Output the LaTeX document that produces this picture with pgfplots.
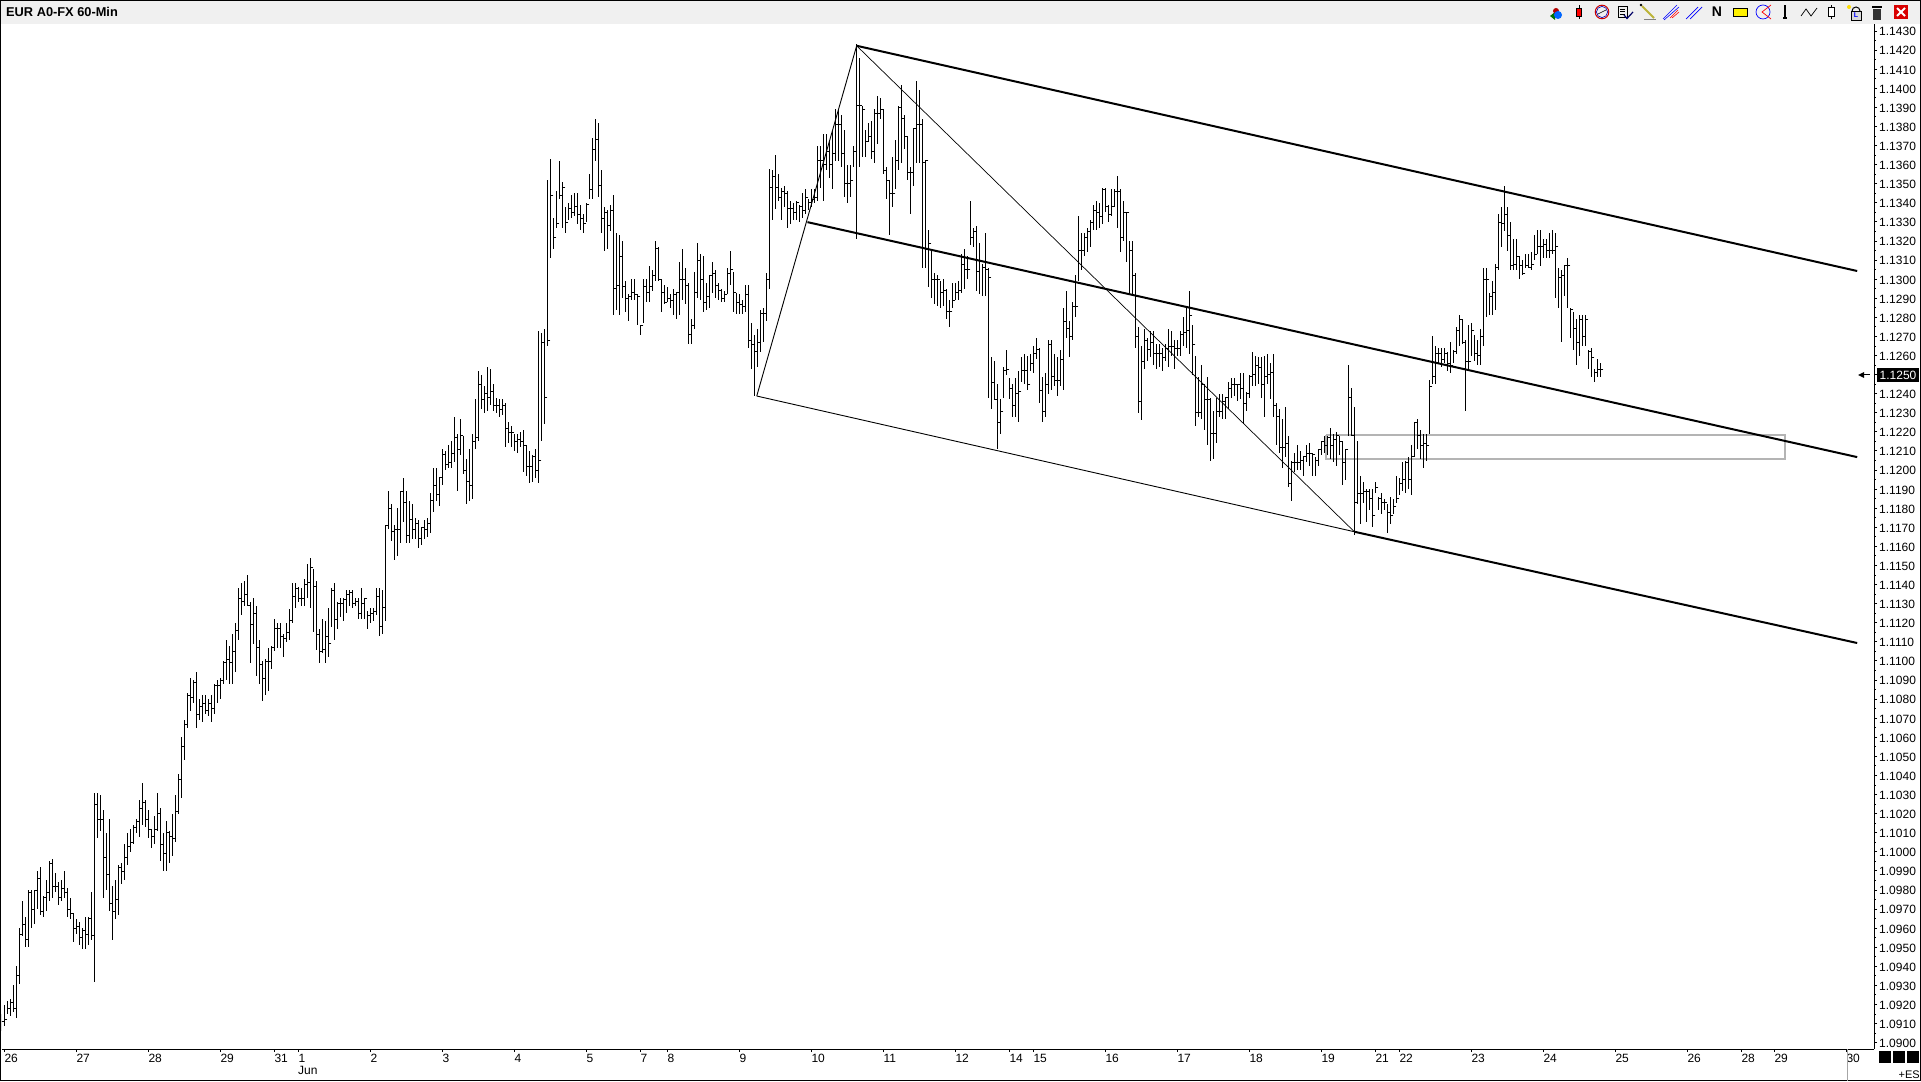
\documentclass[border=0pt]{standalone}
\usepackage{pgfplots}
\usepackage{pgfplotstable}
\usepackage{fontspec}
\setmainfont{Liberation Sans}
\pgfplotsset{compat=1.18}
\definecolor{hdr}{HTML}{F0F0F0}
\definecolor{gbox}{HTML}{B4B4B4}
\pgfplotstableread{
l h c
1.0906 1.0915 1.0911
1.0909 1.0920 1.0912
1.0915 1.0922 1.0918
1.0914 1.0923 1.0921
1.0916 1.0930 1.0918
1.0913 1.0940 1.0935
1.0931 1.0960 1.0957
1.0956 1.0974 1.0962
1.0950 1.0966 1.0954
1.0950 1.0980 1.0979
1.0960 1.0980 1.0970
1.0962 1.0980 1.0980
1.0970 1.0990 1.0986
1.0967 1.0992 1.0969
1.0966 1.0977 1.0976
1.0969 1.0985 1.0979
1.0974 1.0995 1.0994
1.0976 1.0996 1.0982
1.0979 1.0989 1.0982
1.0972 1.0984 1.0976
1.0974 1.0985 1.0981
1.0976 1.0990 1.0979
1.0966 1.0981 1.0970
1.0965 1.0976 1.0968
1.0953 1.0968 1.0960
1.0957 1.0965 1.0961
1.0951 1.0963 1.0955
1.0949 1.0960 1.0959
1.0949 1.0966 1.0957
1.0951 1.0966 1.0965
1.0954 1.0979 1.0956
1.0932 1.1031 1.1025
1.1007 1.1031 1.1017
1.1011 1.1030 1.1017
1.0976 1.1022 1.0997
1.0980 1.1010 1.0988
1.0969 1.1017 1.0973
1.0954 1.0982 1.0969
1.0965 1.0985 1.0975
1.0967 1.0993 1.0992
1.0983 1.0994 1.0990
1.0985 1.1004 1.0997
1.0993 1.1010 1.1003
1.1000 1.1012 1.1005
1.1004 1.1014 1.1013
1.1010 1.1017 1.1016
1.1008 1.1027 1.1023
1.1014 1.1036 1.1026
1.1013 1.1027 1.1017
1.1007 1.1022 1.1012
1.1002 1.1012 1.1008
1.1004 1.1019 1.1012
1.1011 1.1031 1.1020
1.0995 1.1023 1.1004
1.0990 1.1010 1.0999
1.0990 1.1016 1.1010
1.0994 1.1011 1.1008
1.0998 1.1020 1.1007
1.1005 1.1030 1.1021
1.1020 1.1041 1.1038
1.1028 1.1060 1.1055
1.1048 1.1069 1.1067
1.1065 1.1083 1.1082
1.1074 1.1091 1.1081
1.1078 1.1090 1.1089
1.1065 1.1094 1.1072
1.1069 1.1080 1.1076
1.1068 1.1082 1.1078
1.1072 1.1082 1.1074
1.1071 1.1080 1.1078
1.1068 1.1082 1.1075
1.1072 1.1088 1.1087
1.1078 1.1090 1.1087
1.1080 1.1091 1.1090
1.1088 1.1100 1.1099
1.1090 1.1111 1.1101
1.1088 1.1108 1.1099
1.1088 1.1114 1.1105
1.1094 1.1120 1.1116
1.1111 1.1138 1.1133
1.1124 1.1141 1.1131
1.1129 1.1142 1.1135
1.1129 1.1145 1.1129
1.1099 1.1131 1.1119
1.1109 1.1133 1.1125
1.1092 1.1129 1.1107
1.1088 1.1111 1.1098
1.1079 1.1100 1.1091
1.1082 1.1101 1.1100
1.1084 1.1107 1.1100
1.1096 1.1108 1.1107
1.1105 1.1122 1.1117
1.1107 1.1120 1.1117
1.1107 1.1120 1.1113
1.1102 1.1114 1.1112
1.1110 1.1120 1.1115
1.1111 1.1127 1.1121
1.1120 1.1141 1.1134
1.1128 1.1141 1.1138
1.1131 1.1139 1.1133
1.1129 1.1138 1.1133
1.1129 1.1143 1.1140
1.1133 1.1151 1.1141
1.1128 1.1154 1.1149
1.1115 1.1148 1.1139
1.1106 1.1142 1.1114
1.1099 1.1117 1.1105
1.1104 1.1122 1.1106
1.1099 1.1121 1.1113
1.1102 1.1128 1.1109
1.1118 1.1138 1.1137
1.1111 1.1141 1.1122
1.1117 1.1131 1.1130
1.1123 1.1133 1.1130
1.1121 1.1133 1.1132
1.1125 1.1137 1.1135
1.1129 1.1137 1.1136
1.1128 1.1137 1.1130
1.1129 1.1133 1.1131
1.1122 1.1133 1.1125
1.1122 1.1138 1.1130
1.1122 1.1133 1.1133
1.1117 1.1126 1.1124
1.1120 1.1128 1.1125
1.1121 1.1128 1.1126
1.1124 1.1138 1.1134
1.1113 1.1138 1.1118
1.1114 1.1137 1.1128
1.1121 1.1171 1.1171
1.1169 1.1189 1.1180
1.1163 1.1182 1.1168
1.1153 1.1171 1.1169
1.1155 1.1180 1.1169
1.1162 1.1189 1.1189
1.1173 1.1196 1.1183
1.1162 1.1189 1.1166
1.1162 1.1184 1.1174
1.1164 1.1182 1.1169
1.1164 1.1175 1.1172
1.1159 1.1174 1.1164
1.1161 1.1170 1.1170
1.1164 1.1174 1.1169
1.1165 1.1175 1.1172
1.1167 1.1188 1.1184
1.1178 1.1201 1.1192
1.1184 1.1201 1.1187
1.1181 1.1196 1.1196
1.1192 1.1211 1.1208
1.1200 1.1210 1.1203
1.1201 1.1213 1.1204
1.1201 1.1215 1.1209
1.1204 1.1228 1.1217
1.1189 1.1219 1.1211
1.1208 1.1227 1.1218
1.1198 1.1218 1.1200
1.1182 1.1206 1.1194
1.1184 1.1211 1.1192
1.1185 1.1219 1.1215
1.1211 1.1237 1.1217
1.1215 1.1252 1.1245
1.1232 1.1250 1.1237
1.1230 1.1244 1.1240
1.1231 1.1254 1.1238
1.1234 1.1253 1.1241
1.1231 1.1245 1.1234
1.1230 1.1238 1.1234
1.1228 1.1237 1.1232
1.1229 1.1237 1.1234
1.1212 1.1235 1.1222
1.1214 1.1225 1.1220
1.1212 1.1223 1.1220
1.1210 1.1219 1.1215
1.1209 1.1219 1.1216
1.1212 1.1220 1.1215
1.1199 1.1221 1.1213
1.1197 1.1213 1.1202
1.1193 1.1210 1.1202
1.1194 1.1208 1.1207
1.1196 1.1211 1.1200
1.1193 1.1273 1.1205
1.1215 1.1272 1.1267
1.1224 1.1274 1.1238
1.1265 1.1352 1.1268
1.1311 1.1363 1.1344
1.1316 1.1332 1.1322
1.1327 1.1346 1.1329
1.1342 1.1362 1.1344
1.1327 1.1351 1.1348
1.1324 1.1338 1.1330
1.1331 1.1340 1.1337
1.1332 1.1344 1.1335
1.1333 1.1345 1.1338
1.1329 1.1345 1.1334
1.1326 1.1339 1.1332
1.1324 1.1334 1.1329
1.1330 1.1340 1.1339
1.1342 1.1355 1.1347
1.1342 1.1374 1.1368
1.1362 1.1384 1.1373
1.1343 1.1382 1.1349
1.1324 1.1357 1.1332
1.1315 1.1338 1.1335
1.1316 1.1336 1.1328
1.1325 1.1339 1.1336
1.1281 1.1344 1.1295
1.1284 1.1324 1.1297
1.1281 1.1323 1.1312
1.1290 1.1320 1.1296
1.1283 1.1299 1.1290
1.1278 1.1292 1.1291
1.1289 1.1300 1.1293
1.1289 1.1300 1.1292
1.1276 1.1292 1.1291
1.1271 1.1276 1.1276
1.1277 1.1300 1.1296
1.1288 1.1300 1.1293
1.1288 1.1307 1.1296
1.1294 1.1305 1.1302
1.1299 1.1320 1.1316
1.1299 1.1317 1.1300
1.1283 1.1300 1.1293
1.1287 1.1297 1.1288
1.1288 1.1296 1.1290
1.1285 1.1292 1.1289
1.1281 1.1295 1.1292
1.1279 1.1293 1.1293
1.1281 1.1309 1.1300
1.1289 1.1316 1.1300
1.1287 1.1306 1.1297
1.1266 1.1298 1.1271
1.1266 1.1279 1.1276
1.1274 1.1304 1.1293
1.1290 1.1319 1.1310
1.1289 1.1313 1.1300
1.1283 1.1312 1.1288
1.1284 1.1298 1.1291
1.1285 1.1302 1.1302
1.1293 1.1309 1.1303
1.1290 1.1305 1.1297
1.1289 1.1298 1.1294
1.1288 1.1295 1.1290
1.1288 1.1294 1.1292
1.1292 1.1306 1.1303
1.1297 1.1315 1.1305
1.1283 1.1304 1.1293
1.1282 1.1293 1.1288
1.1282 1.1292 1.1287
1.1282 1.1289 1.1286
1.1283 1.1297 1.1292
1.1264 1.1297 1.1268
1.1253 1.1277 1.1266
1.1239 1.1271 1.1262
1.1254 1.1274 1.1267
1.1262 1.1284 1.1282
1.1267 1.1285 1.1282
1.1278 1.1303 1.1300
1.1295 1.1358 1.1348
1.1331 1.1357 1.1354
1.1337 1.1365 1.1348
1.1341 1.1355 1.1343
1.1331 1.1348 1.1346
1.1338 1.1349 1.1345
1.1327 1.1346 1.1337
1.1329 1.1341 1.1337
1.1331 1.1340 1.1335
1.1331 1.1341 1.1340
1.1330 1.1339 1.1338
1.1332 1.1345 1.1336
1.1334 1.1347 1.1343
1.1336 1.1342 1.1340
1.1338 1.1347 1.1342
1.1340 1.1347 1.1343
1.1341 1.1370 1.1362
1.1348 1.1370 1.1362
1.1341 1.1376 1.1360
1.1357 1.1376 1.1367
1.1353 1.1373 1.1360
1.1347 1.1378 1.1366
1.1362 1.1389 1.1381
1.1362 1.1389 1.1381
1.1359 1.1386 1.1366
1.1343 1.1378 1.1350
1.1340 1.1360 1.1350
1.1343 1.1360 1.1352
1.1359 1.1370 1.1367
1.1321 1.1423 1.1391
1.1359 1.1416 1.1391
1.1364 1.1391 1.1389
1.1364 1.1378 1.1372
1.1372 1.1382 1.1375
1.1363 1.1383 1.1367
1.1361 1.1389 1.1387
1.1371 1.1396 1.1387
1.1384 1.1395 1.1389
1.1355 1.1389 1.1357
1.1342 1.1359 1.1352
1.1323 1.1352 1.1345
1.1338 1.1364 1.1345
1.1347 1.1373 1.1362
1.1357 1.1391 1.1390
1.1361 1.1402 1.1384
1.1368 1.1386 1.1375
1.1352 1.1375 1.1356
1.1334 1.1359 1.1356
1.1349 1.1379 1.1379
1.1361 1.1404 1.1381
1.1361 1.1399 1.1381
1.1306 1.1384 1.1361
1.1306 1.1362 1.1362
1.1296 1.1326 1.1319
1.1290 1.1316 1.1300
1.1287 1.1303 1.1300
1.1286 1.1302 1.1300
1.1285 1.1299 1.1293
1.1286 1.1300 1.1294
1.1279 1.1295 1.1283
1.1275 1.1289 1.1283
1.1285 1.1298 1.1289
1.1289 1.1298 1.1293
1.1289 1.1299 1.1294
1.1293 1.1313 1.1308
1.1295 1.1316 1.1305
1.1300 1.1312 1.1305
1.1318 1.1341 1.1322
1.1317 1.1327 1.1325
1.1294 1.1328 1.1304
1.1292 1.1319 1.1310
1.1291 1.1308 1.1306
1.1291 1.1324 1.1305
1.1238 1.1306 1.1301
1.1232 1.1259 1.1246
1.1237 1.1257 1.1237
1.1211 1.1245 1.1225
1.1219 1.1237 1.1231
1.1238 1.1254 1.1252
1.1250 1.1263 1.1253
1.1237 1.1248 1.1243
1.1228 1.1245 1.1234
1.1228 1.1248 1.1240
1.1225 1.1252 1.1241
1.1246 1.1259 1.1252
1.1245 1.1261 1.1252
1.1242 1.1260 1.1245
1.1252 1.1261 1.1256
1.1251 1.1265 1.1261
1.1258 1.1269 1.1263
1.1235 1.1264 1.1242
1.1225 1.1249 1.1231
1.1228 1.1251 1.1245
1.1240 1.1268 1.1266
1.1242 1.1268 1.1249
1.1244 1.1261 1.1247
1.1239 1.1259 1.1247
1.1244 1.1263 1.1258
1.1242 1.1285 1.1278
1.1269 1.1294 1.1274
1.1259 1.1278 1.1270
1.1268 1.1288 1.1286
1.1280 1.1302 1.1286
1.1299 1.1333 1.1315
1.1305 1.1324 1.1315
1.1312 1.1324 1.1322
1.1314 1.1327 1.1325
1.1317 1.1331 1.1330
1.1326 1.1339 1.1336
1.1326 1.1341 1.1335
1.1327 1.1340 1.1333
1.1329 1.1348 1.1347
1.1335 1.1348 1.1338
1.1330 1.1339 1.1334
1.1333 1.1347 1.1338
1.1338 1.1347 1.1346
1.1327 1.1354 1.1346
1.1314 1.1347 1.1322
1.1320 1.1341 1.1335
1.1309 1.1335 1.1335
1.1292 1.1320 1.1315
1.1292 1.1320 1.1302
1.1264 1.1303 1.1270
1.1230 1.1275 1.1236
1.1226 1.1265 1.1257
1.1253 1.1274 1.1268
1.1257 1.1269 1.1263
1.1259 1.1273 1.1267
1.1255 1.1273 1.1261
1.1253 1.1266 1.1261
1.1254 1.1266 1.1261
1.1252 1.1264 1.1259
1.1257 1.1266 1.1264
1.1254 1.1274 1.1265
1.1260 1.1273 1.1265
1.1253 1.1268 1.1264
1.1260 1.1268 1.1264
1.1260 1.1273 1.1271
1.1265 1.1280 1.1272
1.1264 1.1285 1.1273
1.1261 1.1294 1.1281
1.1250 1.1276 1.1266
1.1223 1.1260 1.1230
1.1228 1.1249 1.1230
1.1227 1.1255 1.1245
1.1221 1.1245 1.1237
1.1213 1.1249 1.1237
1.1205 1.1238 1.1219
1.1206 1.1231 1.1219
1.1214 1.1238 1.1231
1.1228 1.1240 1.1231
1.1227 1.1240 1.1236
1.1227 1.1238 1.1238
1.1232 1.1246 1.1243
1.1238 1.1248 1.1245
1.1239 1.1248 1.1245
1.1236 1.1245 1.1245
1.1237 1.1251 1.1243
1.1224 1.1251 1.1235
1.1231 1.1241 1.1240
1.1238 1.1250 1.1249
1.1244 1.1262 1.1250
1.1244 1.1260 1.1255
1.1245 1.1259 1.1254
1.1238 1.1259 1.1245
1.1228 1.1260 1.1249
1.1245 1.1261 1.1250
1.1237 1.1256 1.1251
1.1228 1.1261 1.1234
1.1213 1.1235 1.1228
1.1209 1.1232 1.1212
1.1201 1.1227 1.1212
1.1207 1.1233 1.1214
1.1191 1.1218 1.1193
1.1184 1.1205 1.1204
1.1199 1.1209 1.1204
1.1200 1.1213 1.1204
1.1200 1.1210 1.1205
1.1197 1.1207 1.1207
1.1204 1.1213 1.1209
1.1202 1.1214 1.1209
1.1197 1.1209 1.1208
1.1197 1.1207 1.1205
1.1202 1.1211 1.1211
1.1208 1.1215 1.1215
1.1209 1.1218 1.1213
1.1208 1.1218 1.1217
1.1206 1.1222 1.1213
1.1204 1.1219 1.1216
1.1202 1.1220 1.1218
1.1208 1.1218 1.1215
1.1192 1.1215 1.1204
1.1195 1.1211 1.1211
1.1218 1.1255 1.1238
1.1218 1.1243 1.1218
1.1166 1.1233 1.1183
1.1182 1.1215 1.1188
1.1172 1.1197 1.1188
1.1183 1.1194 1.1189
1.1173 1.1190 1.1189
1.1179 1.1190 1.1185
1.1170 1.1190 1.1176
1.1188 1.1194 1.1191
1.1179 1.1186 1.1185
1.1177 1.1188 1.1183
1.1179 1.1185 1.1183
1.1167 1.1182 1.1178
1.1172 1.1186 1.1176
1.1177 1.1185 1.1181
1.1183 1.1197 1.1185
1.1187 1.1196 1.1193
1.1189 1.1204 1.1195
1.1188 1.1205 1.1204
1.1190 1.1207 1.1195
1.1187 1.1213 1.1207
1.1207 1.1225 1.1225
1.1211 1.1227 1.1218
1.1206 1.1221 1.1213
1.1201 1.1219 1.1214
1.1205 1.1219 1.1213
1.1219 1.1247 1.1244
1.1245 1.1270 1.1249
1.1245 1.1265 1.1261
1.1256 1.1264 1.1261
1.1254 1.1264 1.1258
1.1256 1.1264 1.1261
1.1252 1.1262 1.1256
1.1251 1.1267 1.1255
1.1256 1.1263 1.1262
1.1261 1.1275 1.1273
1.1265 1.1281 1.1279
1.1266 1.1279 1.1267
1.1231 1.1268 1.1257
1.1252 1.1276 1.1257
1.1260 1.1277 1.1273
1.1257 1.1271 1.1261
1.1255 1.1268 1.1260
1.1255 1.1274 1.1270
1.1265 1.1306 1.1300
1.1280 1.1306 1.1300
1.1281 1.1293 1.1291
1.1281 1.1299 1.1293
1.1284 1.1308 1.1306
1.1305 1.1334 1.1330
1.1317 1.1338 1.1329
1.1325 1.1349 1.1334
1.1315 1.1338 1.1323
1.1305 1.1330 1.1307
1.1305 1.1321 1.1308
1.1305 1.1321 1.1312
1.1300 1.1312 1.1307
1.1302 1.1310 1.1303
1.1306 1.1313 1.1307
1.1306 1.1313 1.1306
1.1305 1.1314 1.1308
1.1310 1.1323 1.1313
1.1313 1.1326 1.1317
1.1307 1.1326 1.1317
1.1311 1.1321 1.1318
1.1311 1.1321 1.1315
1.1311 1.1324 1.1315
1.1313 1.1326 1.1315
1.1290 1.1324 1.1317
1.1285 1.1306 1.1301
1.1267 1.1305 1.1302
1.1291 1.1307 1.1307
1.1285 1.1311 1.1307
1.1269 1.1285 1.1284
1.1263 1.1283 1.1274
1.1255 1.1279 1.1267
1.1260 1.1281 1.1279
1.1265 1.1281 1.1270
1.1265 1.1281 1.1279
1.1253 1.1263 1.1262
1.1249 1.1264 1.1259
1.1246 1.1253 1.1251
1.1249 1.1258 1.1253
1.1249 1.1256 1.1253
}\bars
\begin{document}
\begin{tikzpicture}[x=1pt,y=1pt]
\path[use as bounding box] (0,0) rectangle (1921,1081);
\fill[white] (0,0) rectangle (1921,1081);
\fill[hdr] (0,1057) rectangle (1921,1081);
\begin{axis}[
  at={(2pt,32pt)}, anchor=south west, scale only axis,
  width=1872pt, height=1025pt,
  xmin=0.223, xmax=624.22, ymin=1.08967, ymax=1.14337,
  axis x line*=bottom, axis y line*=right,
  axis line style={-,black,line width=1pt},
  tick style={black,line width=1pt},
  tick align=outside, major tick length=3pt, minor tick length=2pt,
  ytick distance=0.001, minor y tick num=1,
  xtick={1,25,49,73,91,99,123,147,171,195,213,222,246,270,294,318,336,344,368,392,416,440,458,466,490,514,538,562,580,591,615},
  xticklabels={26,27,28,29,31,1,2,3,4,5,7,8,9,10,11,12,14,15,16,17,18,19,21,22,23,24,25,26,28,29,30},
  scaled y ticks=false,
  yticklabel style={/pgf/number format/.cd,fixed,fixed zerofill,precision=4,assume math mode=true,/tikz/.cd,
    font=\fontsize{12}{14}\selectfont,anchor=west,inner sep=0pt,xshift=2pt,yshift=-0.7pt},
  xticklabel style={font=\fontsize{12}{14}\selectfont,anchor=north west,inner sep=0pt,yshift=-2pt},
]
\addplot[gbox,line width=1.5pt] coordinates {(441.6,1.12183)(594.6,1.12183)(594.6,1.12059)(441.6,1.12059)(441.6,1.12183)};
\addplot[draw=none,no marks,forget plot,
  error bars/.cd,y dir=both,y explicit,error mark=none,
  error mark options={draw=none,fill=none,mark size=0pt},
  error bar style={black,line width=1pt}]
  table[x expr=\coordindex,y=c,y error plus expr=\thisrow{h}-\thisrow{c},y error minus expr=\thisrow{c}-\thisrow{l}] {\bars};
\addplot[draw=none,no marks,forget plot,
  error bars/.cd,x dir=plus,x fixed=0.4,error mark=none,
  error mark options={draw=none,fill=none,mark size=0pt},
  error bar style={black,line width=0.8pt}]
  table[x expr=\coordindex,y=c] {\bars};
\addplot[draw=none,no marks,forget plot,
  error bars/.cd,x dir=minus,x fixed=0.4,error mark=none,
  error mark options={draw=none,fill=none,mark size=0pt},
  error bar style={black,line width=0.8pt}]
  table[x expr=\coordindex+1,y=c] {\bars};
% pitchfork
\addplot[black,line width=0.9pt] coordinates {(251.8,1.12388)(285.1,1.14223)};
\addplot[black,line width=0.7pt] coordinates {(285.1,1.14223)(451,1.11677)};
\addplot[black,line width=0.9pt] coordinates {(251.8,1.12388)(451,1.11677)};
\addplot[black,line width=2pt] coordinates {(285.1,1.14223)(618.6,1.13043)};
\addplot[black,line width=2pt] coordinates {(268.7,1.13299)(618.6,1.12068)};
\addplot[black,line width=2pt] coordinates {(451,1.11677)(618.6,1.11094)};
\end{axis}
% frame
\draw[black,line width=1pt] (0.5,0.5) rectangle (1920.5,1080.5);
\node[anchor=west,inner sep=0pt,font=\fontsize{12.8}{14}\selectfont\bfseries] at (6,1069) {EUR A0-FX 60-Min};
\node[anchor=north west,inner sep=0pt,font=\fontsize{12}{14}\selectfont] at (298,14.5) {Jun};
\draw[gray!70,line width=1pt] (1847,0) -- (1847,32);
% current price box and arrow
\fill[black] (1877,699) rectangle (1919,713);
\node[white,anchor=center,inner sep=0pt,font=\fontsize{12}{14}\selectfont] at (1898,706) {1.1250};
\draw[black,line width=1pt] (1860,706) -- (1870,706);
\fill[black] (1858,706) -- (1864,709) -- (1864,703) -- cycle;
% bottom right
\fill[black] (1879,18) rectangle (1891,30);
\fill[black] (1893,18) rectangle (1905,30);
\fill[black] (1907,18) rectangle (1919,30);
\node[anchor=east,inner sep=0pt,font=\fontsize{11}{13}\selectfont] at (1920,6) {+ES};
% toolbar icons
\fill[green!45!black] (1550,1065) -- (1555,1069) -- (1555,1061) -- cycle;
\fill[red!70!black] (1556,1070) circle (3);
\fill[blue!60!cyan] (1558,1066) circle (4);
\draw[black,line width=1pt] (1579,1062) -- (1579,1076);
\fill[red] (1576.5,1065) rectangle (1581.5,1073);
\draw[black,line width=0.5pt] (1576.5,1065) rectangle (1581.5,1073);
\draw[red!80!black,line width=1pt] (1602,1069) circle (6.8);
\draw[blue!70!black,line width=0.6pt] (1602,1069) circle (5.6);
\draw[black,line width=0.6pt] (1598,1067) -- (1602,1069) -- (1606,1071);
\draw[black,line width=0.6pt] (1618,1064) rectangle (1627,1075);
\draw[black,line width=0.4pt] (1620,1072) -- (1625,1072) (1620,1069.5) -- (1625,1069.5) (1620,1067) -- (1625,1067);
\draw[blue!40!black,line width=1.2pt] (1624,1066) -- (1627,1062.5) -- (1633,1069);
\draw[yellow!70!black,line width=2pt] (1642,1075) -- (1654,1063);
\fill[black] (1641,1076) circle (1.4);
\draw[gray,line width=0.5pt] (1644,1061.5) -- (1656,1061.5);
\draw[blue,line width=0.6pt] (1663,1062) -- (1677,1076) ;
\draw[blue,line width=0.6pt] (1664,1061) -- (1679,1074);
\draw[red,line width=0.6pt] (1670,1063) -- (1678,1071) (1672,1063) -- (1679,1069);
\draw[blue,line width=0.7pt] (1686,1062) -- (1698,1074) (1690,1062) -- (1702,1074);
\node[font=\fontsize{14}{14}\selectfont\bfseries,inner sep=0pt] at (1717,1069) {N};
\fill[yellow] (1733,1065) rectangle (1747,1073);
\draw[black,line width=0.7pt] (1733,1065) rectangle (1747,1073);
\draw[blue,line width=0.7pt] (1763,1069) circle (7);
\draw[red,line width=0.7pt] (1771,1076) -- (1762,1069) -- (1771,1062);
\draw[black,line width=2pt] (1785,1062) -- (1785,1076);
\fill[black] (1783,1062) rectangle (1787,1064);
\draw[black,line width=0.7pt] (1801,1065) -- (1806,1072) -- (1811,1065) -- (1817,1073);
\draw[black,line width=0.7pt] (1831,1062) -- (1831,1076);
\fill[white] (1828,1065) rectangle (1834,1074);
\draw[black,line width=0.7pt] (1828,1065) rectangle (1834,1074);
\draw[black,line width=1pt] (1852,1070) arc (180:0:4);
\fill[gray!30] (1851,1061) rectangle (1861,1070);
\draw[black,line width=0.6pt] (1851,1061) rectangle (1861,1070);
\node[blue,font=\fontsize{7}{7}\selectfont\bfseries,inner sep=0pt] at (1856,1065.5) {L};
\fill[yellow!80!orange] (1849,1074) circle (2);
\fill[black] (1872,1073) rectangle (1882,1075);
\fill[gray!40!black] (1873,1061) rectangle (1881,1072);
\fill[red!85!black] (1894,1062) rectangle (1908,1076);
\draw[white,line width=2pt] (1897,1065) -- (1905,1073) (1897,1073) -- (1905,1065);
\end{tikzpicture}
\end{document}
